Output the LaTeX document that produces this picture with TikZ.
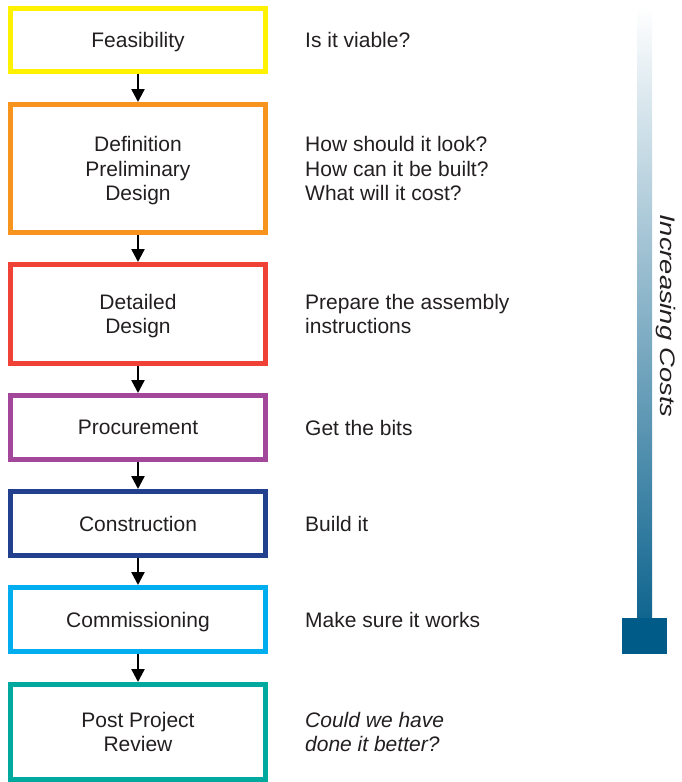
\documentclass[tikz,border=0pt]{standalone}
\usepackage{fontspec}
\setmainfont{Liberation Sans}
\usetikzlibrary{positioning,arrows.meta}

\definecolor{inkgray}{HTML}{231F20}
\definecolor{feasyellow}{HTML}{FFF200}
\definecolor{defnorange}{HTML}{F7941D}
\definecolor{detlred}{HTML}{EF4136}
\definecolor{procpurple}{HTML}{A3479A}
\definecolor{consnavy}{HTML}{22408E}
\definecolor{commcyan}{HTML}{00AEEF}
\definecolor{reviewteal}{HTML}{00A99D}
\definecolor{costblue}{HTML}{005B88}

\begin{document}
\begin{tikzpicture}[
  x=1pt,y=-1pt,
  line join=miter,
  stage/.style={draw=#1,line width=5pt,minimum width=255pt,inner sep=0pt,
    align=center,text=inkgray,text depth=0pt,font=\fontsize{21}{24.5}\selectfont},
  note/.style={anchor=west,inner sep=0pt,align=left,text=inkgray,
    font=\fontsize{21}{24.5}\selectfont},
  flow/.style={draw=black,line width=2.4pt,-{Triangle[length=13pt,width=13pt]}}
]
\useasboundingbox (0,0) rectangle (682,782);

% project stages
\node[stage=feasyellow,minimum height=63pt] (feas) at (138,40) {Feasibility};
\node[stage=defnorange,minimum height=128pt,below=28pt of feas] (defn)
  {Definition\\Preliminary\\Design};
\node[stage=detlred,minimum height=99pt,below=27pt of defn] (detl)
  {Detailed\\Design};
\node[stage=procpurple,minimum height=64pt,below=27pt of detl] (proc)
  {Procurement};
\node[stage=consnavy,minimum height=64pt,below=27pt of proc] (cons)
  {Construction};
\node[stage=commcyan,minimum height=64pt,below=27pt of cons] (comm)
  {Commissioning};
\node[stage=reviewteal,minimum height=95pt,below=28pt of comm] (review)
  {Post Project\\Review};

% flow between stages
\draw[flow] (feas.south) -- (defn.north);
\draw[flow] (defn.south) -- (detl.north);
\draw[flow] (detl.south) -- (proc.north);
\draw[flow] (proc.south) -- (cons.north);
\draw[flow] (cons.south) -- (comm.north);
\draw[flow] (comm.south) -- (review.north);

% questions for each stage
\node[note,right=37pt of feas] (feasq) {Is it viable?};
\node[note,right=37pt of defn] (defnq)
  {How should it look?\\How can it be built?\\What will it cost?};
\node[note,right=37pt of detl] (detlq) {Prepare the assembly\\instructions};
\node[note,right=37pt of proc] (procq) {Get the bits};
\node[note,right=37pt of cons] (consq) {Build it};
\node[note,right=37pt of comm] (commq) {Make sure it works};
\node[note,right=37pt of review,font=\fontsize{21}{24.5}\selectfont\itshape] (reviewq)
  {Could we have\\done it better?};

% cost arrow
\shade[top color=white,bottom color=costblue!94!white] (637,7) rectangle (652,620);
\fill[costblue] (622,618) -- (667,618) -- (667,654) -- (622,654) -- cycle;
\node[rotate=-90,text=inkgray,font=\fontsize{21}{24.5}\selectfont\itshape] (costs)
  at (666,316) {\scalebox{1.3}[1]{Increasing Costs}};

\end{tikzpicture}
\end{document}
